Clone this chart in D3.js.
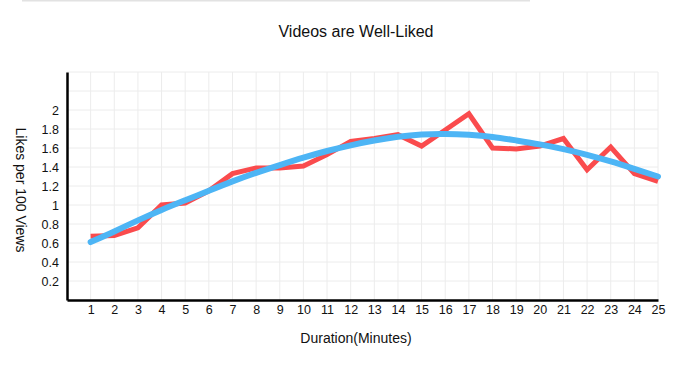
<!DOCTYPE html>
<html>
<head>
<meta charset="utf-8">
<script src="https://cdn.jsdelivr.net/npm/d3@7"></script>
<style>
  body { margin: 0; background: #fff; }
  text { font-family: "Liberation Sans", Arial, sans-serif; fill: #111; }
</style>
</head>
<body>
<div id="chart"></div>
<script>
// minutes on the x axis
var minutes = d3.range(1, 26)
// observed likes per 100 views (red)
var observed = [0.67, 0.68, 0.76, 1.00, 1.02, 1.15, 1.33, 1.39, 1.39, 1.41,
                1.53, 1.67, 1.70, 1.74, 1.62, 1.79, 1.96, 1.60, 1.59, 1.62,
                1.70, 1.37, 1.61, 1.33, 1.25]
// fitted trend (blue)
var trend = [0.61, 0.72, 0.84, 0.95, 1.05, 1.15, 1.25, 1.34, 1.42, 1.50,
             1.57, 1.63, 1.68, 1.72, 1.745, 1.75, 1.74, 1.72, 1.68, 1.64,
             1.59, 1.53, 1.46, 1.38, 1.30]
var yTicks = [0.2, 0.4, 0.6, 0.8, 1, 1.2, 1.4, 1.6, 1.8, 2]

var width = 700
var height = 387

var svg = d3.select("#chart")
  .append("svg")
  .attr("width", width)
  .attr("height", height)

// faint line along the top
svg.append("line")
  .attr("x1", 22).attr("x2", 530)
  .attr("y1", 0.5).attr("y2", 0.5)
  .attr("stroke", "#e2e2e2")
  .attr("stroke-width", 2)

var x = d3.scaleLinear().domain([0, 25]).range([67, 658])
var y = d3.scaleLinear().domain([0, 2.4]).range([300, 72])

// grid
svg.append("g")
  .selectAll("line")
  .data(minutes)
  .join("line")
    .attr("x1", d => x(d)).attr("x2", d => x(d))
    .attr("y1", y(2.4)).attr("y2", y(0))
    .attr("stroke", "#ececec")
    .attr("stroke-width", 1)

svg.append("g")
  .selectAll("line")
  .data(yTicks.concat([2.2, 2.4]))
  .join("line")
    .attr("x1", x(0)).attr("x2", x(25))
    .attr("y1", d => y(d)).attr("y2", d => y(d))
    .attr("stroke", "#ececec")
    .attr("stroke-width", 1)

// axes
var xAxis = svg.append("g")
  .attr("transform", `translate(0,${y(0)})`)
  .call(d3.axisBottom(x).tickValues(minutes).tickSize(0).tickPadding(5).tickFormat(d3.format("d")))
xAxis.select(".domain").attr("stroke", "#000").attr("stroke-width", 2.5)
xAxis.selectAll("text").style("font-size", "12.5px").attr("dy", "0.71em")

var yAxis = svg.append("g")
  .attr("transform", `translate(${x(0)},0)`)
  .call(d3.axisLeft(y).tickValues(yTicks).tickSize(0).tickPadding(8).tickFormat(d3.format("")))
yAxis.select(".domain").attr("stroke", "#000").attr("stroke-width", 2.5)
yAxis.selectAll("text").style("font-size", "12.5px")

// lines
var line = d3.line()
  .x((d, i) => x(minutes[i]))
  .y(d => y(d))

svg.append("path")
  .datum(observed)
  .attr("fill", "none")
  .attr("stroke", "#fa4b4d")
  .attr("stroke-width", 5)
  .attr("d", line)

svg.append("path")
  .datum(trend)
  .attr("fill", "none")
  .attr("stroke", "#4db5f5")
  .attr("stroke-width", 6)
  .attr("stroke-linecap", "round")
  .attr("d", line.curve(d3.curveBasis))

// titles
svg.append("text")
  .attr("x", 356).attr("y", 31)
  .attr("text-anchor", "middle")
  .attr("dominant-baseline", "central")
  .style("font-size", "16px")
  .text("Videos are Well-Liked")

svg.append("text")
  .attr("x", 356).attr("y", 338)
  .attr("text-anchor", "middle")
  .attr("dominant-baseline", "central")
  .style("font-size", "14px")
  .text("Duration(Minutes)")

svg.append("text")
  .attr("transform", "translate(21,190) rotate(90)")
  .attr("text-anchor", "middle")
  .attr("dominant-baseline", "central")
  .style("font-size", "14px")
  .text("Likes per 100 Views")
</script>
</body>
</html>
